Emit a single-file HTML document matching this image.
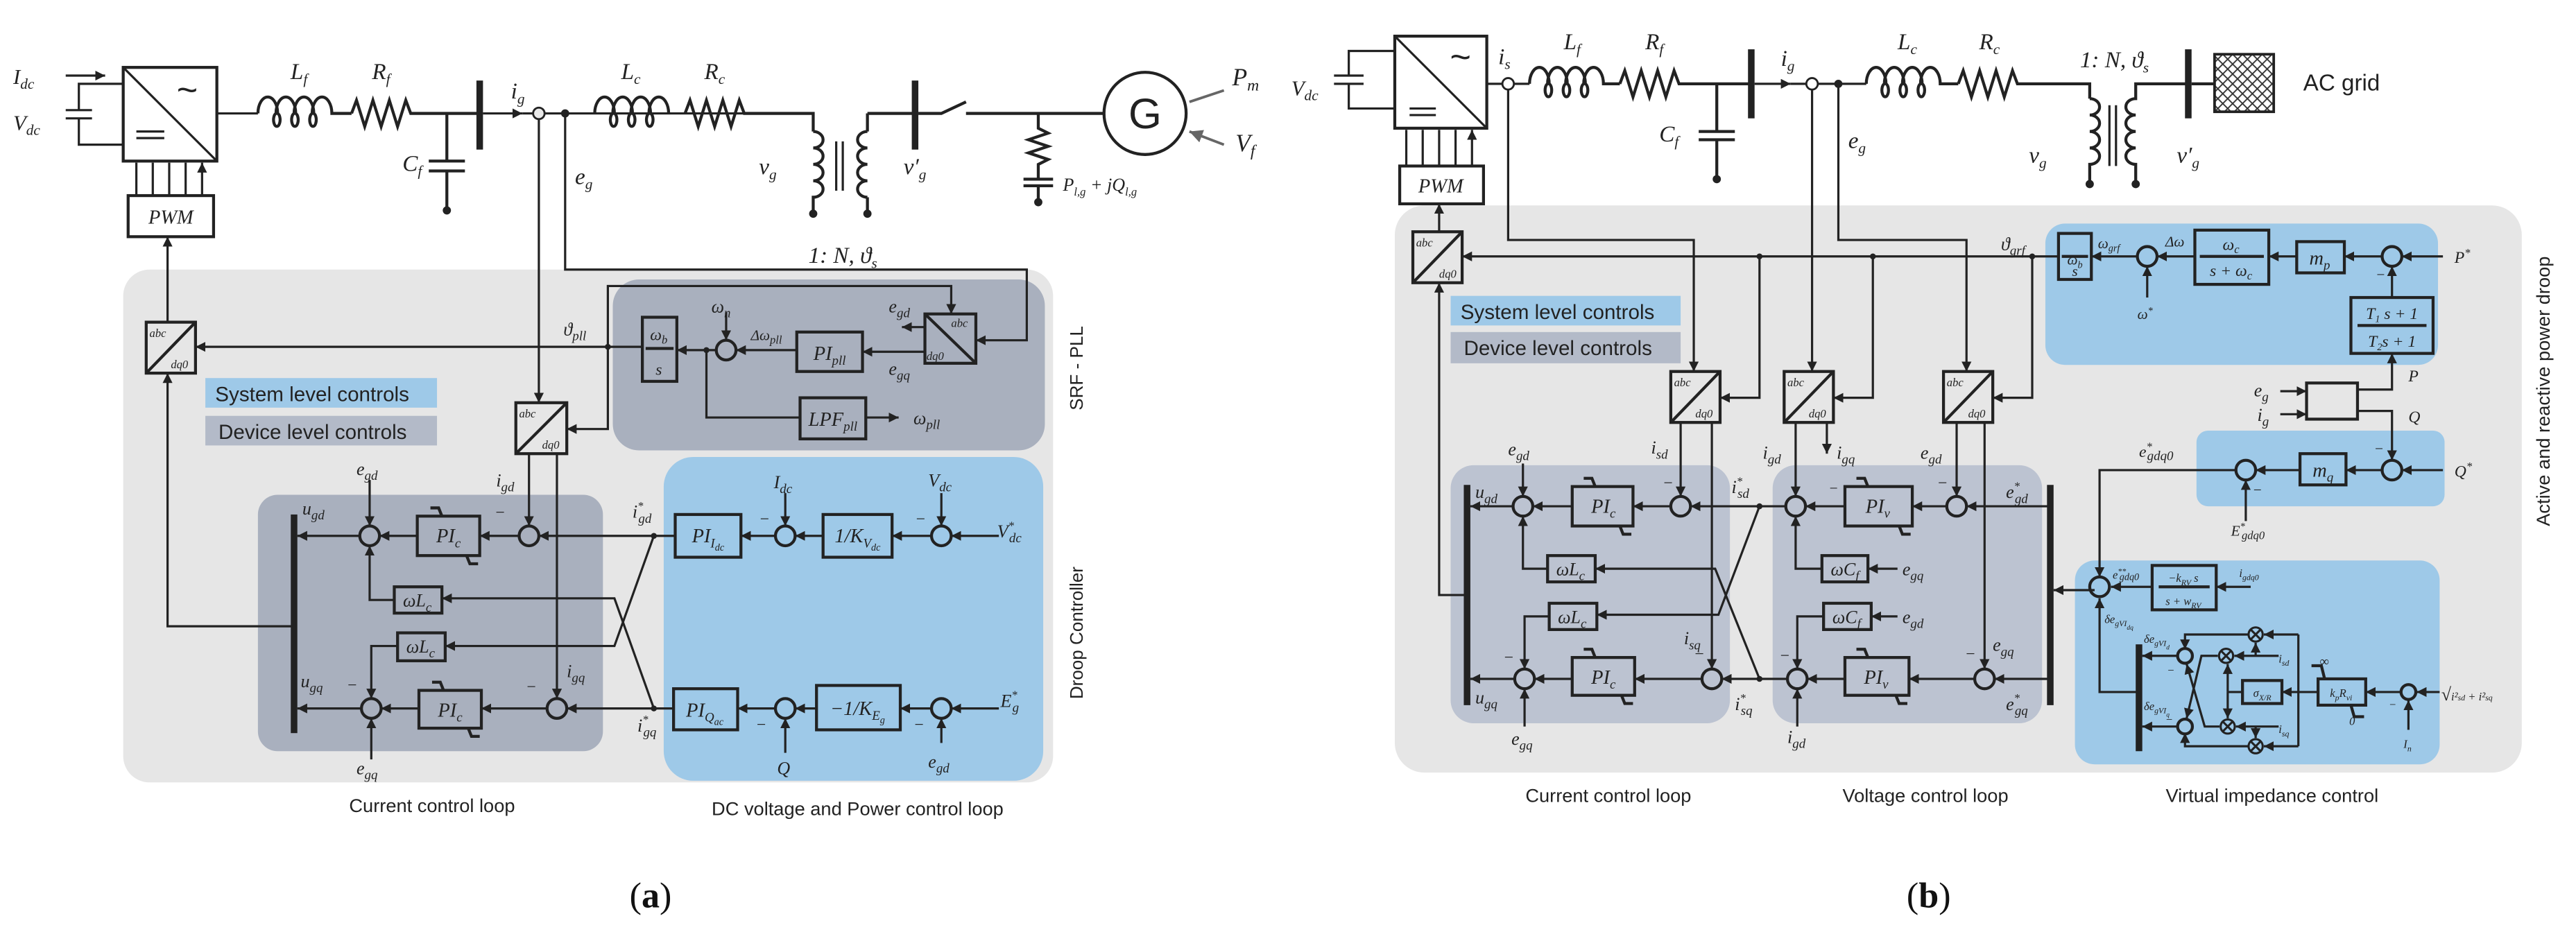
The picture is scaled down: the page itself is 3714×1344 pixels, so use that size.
<!DOCTYPE html>
<html><head><meta charset="utf-8"><style>
html,body{margin:0;padding:0;background:#fff}
svg{display:block}
.m{font-family:"Liberation Serif",serif;font-style:italic;fill:#222}
.s{font-family:"Liberation Sans",sans-serif;fill:#222}
.l{fill:none;stroke:#222;stroke-width:1.35}
.b{fill:none;stroke:#222;stroke-width:1.8}
</style></head><body>
<svg width="3714" height="1344" viewBox="0 0 1568 567" preserveAspectRatio="none" xmlns="http://www.w3.org/2000/svg">
<defs>
<marker id="a" viewBox="0 0 10 10" refX="10" refY="5" markerWidth="6" markerHeight="6" orient="auto" markerUnits="userSpaceOnUse"><path d="M0,0L10,5L0,10z" fill="#222"/></marker>
<marker id="g" viewBox="0 0 10 10" refX="10" refY="5" markerWidth="8" markerHeight="8" orient="auto" markerUnits="userSpaceOnUse"><path d="M0,0L10,5L0,10z" fill="#666"/></marker>
<pattern id="h" width="6" height="6" patternUnits="userSpaceOnUse"><path d="M0,0L6,6M6,0L0,6" stroke="#333" stroke-width="0.8"/></pattern>
</defs>
<rect width="1568" height="567" fill="#fff"/>

<!-- ================= PANEL A ================= -->
<rect x="75" y="164" width="566" height="312" rx="16" fill="#e6e6e6"/>
<rect x="373" y="170" width="263" height="104" rx="16" fill="#a9b0be"/>
<rect x="404" y="278" width="231" height="197" rx="18" fill="#9ec9e8"/>
<rect x="157" y="301" width="210" height="156" rx="12" fill="#a9b0be"/>
<rect x="125" y="230" width="141" height="18" fill="#9ec9e8"/>
<text x="131" y="244" class="s" font-size="12.5">System level controls</text>
<rect x="125" y="253" width="141" height="18" fill="#b3bac8"/>
<text x="133" y="267" class="s" font-size="12.5">Device level controls</text>
<text class="s" font-size="11" transform="translate(659,224) rotate(-90)" text-anchor="middle">SRF - PLL</text>
<text class="s" font-size="11" transform="translate(659,385) rotate(-90)" text-anchor="middle">Droop Controller</text>
<text x="263" y="494" class="s" font-size="11.5" text-anchor="middle">Current control loop</text>
<text x="522" y="496" class="s" font-size="11.5" text-anchor="middle">DC voltage and Power control loop</text>
<text x="396" y="552" font-family="Liberation Serif,serif" font-size="22" text-anchor="middle" fill="#111">(<tspan font-weight="bold">a</tspan>)</text>

<!-- circuit a -->
<rect x="75" y="41" width="57" height="57" class="b"/>
<path d="M75,41L132,98" class="l"/>
<text x="114" y="62" font-size="22" text-anchor="middle" fill="#222" font-family="Liberation Sans">~</text>
<path d="M83,80h17M83,84h17" class="l"/>
<path d="M75,51H48V67M40,67h16M40,72h16M48,72V88H75" class="l"/>
<path d="M40,46H64" class="l" marker-end="url(#a)"/>
<text x="8" y="51" class="m" font-size="13">I<tspan dy="3" font-size="9">dc</tspan></text>
<text x="8" y="79" class="m" font-size="13">V<tspan dy="3" font-size="9">dc</tspan></text>
<rect x="78" y="119" width="52" height="25" class="b"/>
<text x="104" y="136" class="m" font-size="12" text-anchor="middle">PWM</text>
<path d="M83,119V99M93,119V99M103,119V99M113,119V99M123,119V99" class="l" marker-end="url(#a)"/>
<path d="M132,69H157" class="l"/>
<path d="M157,69a6,10 0 1 1 12,0a2,4 0 1 1 -1,0a6,10 0 1 1 12,0a2,4 0 1 1 -1,0a6,10 0 1 1 12,0a2,4 0 1 1 -1,0a6,10 0 1 1 12,0H214" class="b"/>
<path d="M214,69l3,-8l5,16l5,-16l5,16l5,-16l5,16l5,-16l3,8H292" class="b"/>
<text x="182" y="48" class="m" font-size="14" text-anchor="middle">L<tspan dy="3" font-size="9">f</tspan></text>
<text x="232" y="48" class="m" font-size="14" text-anchor="middle">R<tspan dy="3" font-size="9">f</tspan></text>
<path d="M272,69V98M261,98h22M261,104h22M272,104V128" class="b"/>
<circle cx="272" cy="128" r="2.5" fill="#222"/>
<text x="245" y="104" class="m" font-size="14">C<tspan dy="3" font-size="9">f</tspan></text>
<rect x="290" y="49" width="4" height="42" fill="#222"/>
<path d="M294,69H318" class="l" marker-end="url(#a)"/>
<path d="M318,69H458" class="l"/>
<circle cx="328" cy="69" r="3.5" fill="#e9e9e9" stroke="#222" stroke-width="1.2"/>
<circle cx="344" cy="69" r="2.5" fill="#222"/>
<text x="311" y="60" class="m" font-size="14">i<tspan dy="3" font-size="9">g</tspan></text>
<text x="350" y="112" class="m" font-size="14">e<tspan dy="3" font-size="9">g</tspan></text>
<path d="M362,69a6,10 0 1 1 12,0a2,4 0 1 1 -1,0a6,10 0 1 1 12,0a2,4 0 1 1 -1,0a6,10 0 1 1 12,0a2,4 0 1 1 -1,0a6,10 0 1 1 12,0" class="b" fill="#fff"/>
<path d="M417,69l3,-8l5,16l5,-16l5,16l5,-16l5,16l5,-16l3,8H495V80" class="b"/>
<text x="384" y="48" class="m" font-size="14" text-anchor="middle">L<tspan dy="3" font-size="9">c</tspan></text>
<text x="435" y="48" class="m" font-size="14" text-anchor="middle">R<tspan dy="3" font-size="9">c</tspan></text>
<path d="M495,80a6,5 0 1 1 0,10a6,5 0 1 1 0,10a6,5 0 1 1 0,10a6,5 0 1 1 0,10V130" class="b"/>
<path d="M528,69V80M528,120V130" class="b"/>
<path d="M528,80a6,5 0 1 0 0,10a6,5 0 1 0 0,10a6,5 0 1 0 0,10a6,5 0 1 0 0,10" class="b"/>
<path d="M509,86V116M513,86V116" class="l"/>
<circle cx="495" cy="130" r="2.5" fill="#222"/><circle cx="528" cy="130" r="2.5" fill="#222"/>
<path d="M528,69H557" class="b"/>
<text x="462" y="106" class="m" font-size="14">v<tspan dy="3" font-size="9">g</tspan></text>
<text x="550" y="106" class="m" font-size="14">v′<tspan dy="3" font-size="9">g</tspan></text>
<text x="513" y="160" class="m" font-size="14" text-anchor="middle">1: N, ϑ<tspan dy="3" font-size="9">s</tspan></text>
<rect x="555" y="49" width="4" height="42" fill="#222"/>
<path d="M559,69H573L588,62M588,69H672" class="b"/>
<circle cx="697" cy="69" r="25" fill="none" stroke="#222" stroke-width="1.8"/>
<text x="697" y="78" font-family="Liberation Sans" font-size="26" text-anchor="middle" fill="#222">G</text>
<path d="M745,55L724,62M745,88L724,80" stroke="#666" stroke-width="1.6" marker-end="url(#g)"/>
<text x="750" y="52" class="m" font-size="15">P<tspan dy="3" font-size="10">m</tspan></text>
<text x="752" y="92" class="m" font-size="15">V<tspan dy="3" font-size="10">f</tspan></text>
<path d="M632,69V78l6,3l-12,4l12,4l-12,4l12,4l-6,3V109M623,109h18M623,113h18M632,113V123" class="b"/>
<circle cx="632" cy="123" r="2.5" fill="#222"/>
<text x="647" y="116" class="m" font-size="11">P<tspan dy="3" font-size="7">l,g</tspan><tspan dy="-3"> + jQ</tspan><tspan dy="3" font-size="7">l,g</tspan></text>

<!-- control a -->
<g class="l">
<path d="M328,72V245" marker-end="url(#a)"/>
<path d="M344,69V164H625V207H594" marker-end="url(#a)"/>
<path d="M370,211V174H579V191" marker-end="url(#a)"/>
<path d="M370,211V261H345" marker-end="url(#a)"/>
<path d="M391,211H119" marker-end="url(#a)"/>
<path d="M436,213H412" marker-end="url(#a)"/>
<path d="M442,190V207" marker-end="url(#a)"/>
<path d="M485,213H448" marker-end="url(#a)"/>
<path d="M430,213V254H487"/>
<path d="M527,254H547" marker-end="url(#a)"/>
<path d="M563,199H549" marker-end="url(#a)"/>
<path d="M563,214H525" marker-end="url(#a)"/>
<path d="M322,276V320" marker-end="url(#a)"/>
<path d="M339,276V425" marker-end="url(#a)"/>
<path d="M411,326H328" marker-end="url(#a)"/>
<path d="M316,326H292" marker-end="url(#a)"/>
<path d="M254,326H231" marker-end="url(#a)"/>
<path d="M219,326H181" marker-end="url(#a)"/>
<path d="M225,292V320" marker-end="url(#a)"/>
<path d="M240,365H225V332" marker-end="url(#a)"/>
<path d="M242,393H226V425" marker-end="url(#a)"/>
<path d="M398,431L374,364H269" marker-end="url(#a)"/>
<path d="M398,326L374,393H271" marker-end="url(#a)"/>
<path d="M410,431H345" marker-end="url(#a)"/>
<path d="M333,431H293" marker-end="url(#a)"/>
<path d="M255,431H232" marker-end="url(#a)"/>
<path d="M220,431H181" marker-end="url(#a)"/>
<path d="M226,462V437" marker-end="url(#a)"/>
<path d="M179,381H102V227" marker-end="url(#a)"/>
<path d="M102,196V144" marker-end="url(#a)"/>
<path d="M608,326H579" marker-end="url(#a)"/>
<path d="M567,326H543" marker-end="url(#a)"/>
<path d="M501,326H484" marker-end="url(#a)"/>
<path d="M472,326H451" marker-end="url(#a)"/>
<path d="M478,300V320" marker-end="url(#a)"/>
<path d="M573,300V320" marker-end="url(#a)"/>
<path d="M608,431H579" marker-end="url(#a)"/>
<path d="M567,431H548" marker-end="url(#a)"/>
<path d="M497,431H484" marker-end="url(#a)"/>
<path d="M472,431H449" marker-end="url(#a)"/>
<path d="M478,458V437" marker-end="url(#a)"/>
<path d="M573,452V437" marker-end="url(#a)"/>
</g>
<circle cx="370" cy="211" r="1.8" fill="#222"/><circle cx="430" cy="213" r="1.8" fill="#222"/>
<circle cx="398" cy="326" r="1.8" fill="#222"/><circle cx="398" cy="431" r="1.8" fill="#222"/>
<g class="b">
<rect x="89" y="196" width="30" height="31"/><path d="M89,227L119,196"/>
<rect x="314" y="245" width="31" height="31"/><path d="M314,276L345,245"/>
<rect x="563" y="191" width="31" height="30"/><path d="M563,191L594,221"/>
<rect x="391" y="193" width="21" height="39"/><path d="M393,212h17"/>
<rect x="485" y="202" width="40" height="24"/>
<rect x="487" y="242" width="40" height="25"/>
<rect x="254" y="314" width="38" height="24"/><path d="M262,309h5l2,5M284,338l2,5h5"/>
<rect x="255" y="420" width="38" height="23"/><path d="M263,415h5l2,5M285,443l2,5h5"/>
<rect x="240" y="357" width="29" height="16"/>
<rect x="242" y="385" width="29" height="17"/>
<rect x="411" y="313" width="40" height="26"/>
<rect x="501" y="313" width="42" height="26"/>
<rect x="410" y="419" width="39" height="25"/>
<rect x="497" y="417" width="51" height="27"/>
<circle cx="442" cy="213" r="6"/>
<circle cx="225" cy="326" r="6"/><circle cx="322" cy="326" r="6"/>
<circle cx="226" cy="431" r="6"/><circle cx="339" cy="431" r="6"/>
<circle cx="478" cy="326" r="6"/><circle cx="573" cy="326" r="6"/>
<circle cx="478" cy="431" r="6"/><circle cx="573" cy="431" r="6"/>
</g>
<rect x="177" y="313" width="4" height="133" fill="#222"/>
<g class="m">
<text x="91" y="205" font-size="7">abc</text><text x="104" y="224" font-size="7">dq0</text>
<text x="316" y="254" font-size="7">abc</text><text x="330" y="273" font-size="7">dq0</text>
<text x="579" y="199" font-size="7">abc</text><text x="564" y="219" font-size="7">dq0</text>
<text x="401" y="207" font-size="10" text-anchor="middle">ω<tspan dy="2" font-size="7">b</tspan></text>
<text x="401" y="228" font-size="10" text-anchor="middle">s</text>
<text x="505" y="219" font-size="12" text-anchor="middle">PI<tspan dy="3" font-size="8">pll</tspan></text>
<text x="507" y="259" font-size="12" text-anchor="middle">LPF<tspan dy="3" font-size="8">pll</tspan></text>
<text x="433" y="190" font-size="11">ω<tspan dy="3" font-size="8">n</tspan></text>
<text x="457" y="207" font-size="9">Δω<tspan dy="2" font-size="7">pll</tspan></text>
<text x="343" y="204" font-size="11">ϑ<tspan dy="3" font-size="8">pll</tspan></text>
<text x="541" y="190" font-size="11">e<tspan dy="3" font-size="8">gd</tspan></text>
<text x="541" y="228" font-size="11">e<tspan dy="3" font-size="8">gq</tspan></text>
<text x="556" y="258" font-size="11">ω<tspan dy="3" font-size="8">pll</tspan></text>
<text x="273" y="330" font-size="12" text-anchor="middle">PI<tspan dy="3" font-size="8">c</tspan></text>
<text x="274" y="436" font-size="12" text-anchor="middle">PI<tspan dy="3" font-size="8">c</tspan></text>
<text x="254" y="369" font-size="11" text-anchor="middle">ωL<tspan dy="3" font-size="8">c</tspan></text>
<text x="256" y="397" font-size="11" text-anchor="middle">ωL<tspan dy="3" font-size="8">c</tspan></text>
<text x="217" y="289" font-size="11">e<tspan dy="3" font-size="8">gd</tspan></text>
<text x="217" y="471" font-size="11">e<tspan dy="3" font-size="8">gq</tspan></text>
<text x="184" y="313" font-size="11">u<tspan dy="3" font-size="8">gd</tspan></text>
<text x="183" y="418" font-size="11">u<tspan dy="3" font-size="8">gq</tspan></text>
<text x="302" y="296" font-size="11">i<tspan dy="3" font-size="8">gd</tspan></text>
<text x="345" y="412" font-size="11">i<tspan dy="3" font-size="8">gq</tspan></text>
<text x="385" y="315" font-size="11">i<tspan dy="-5" font-size="7">*</tspan><tspan dx="-3" dy="8" font-size="8">gd</tspan></text>
<text x="388" y="445" font-size="11">i<tspan dy="-5" font-size="7">*</tspan><tspan dx="-3" dy="8" font-size="8">gq</tspan></text>
<text x="431" y="330" font-size="12" text-anchor="middle">PI<tspan dy="3" font-size="8">I</tspan><tspan dy="2" font-size="6">dc</tspan></text>
<text x="522" y="330" font-size="12" text-anchor="middle">1/K<tspan dy="3" font-size="8">V</tspan><tspan dy="2" font-size="6">dc</tspan></text>
<text x="429" y="436" font-size="12" text-anchor="middle">PI<tspan dy="3" font-size="8">Q</tspan><tspan dy="2" font-size="6">ac</tspan></text>
<text x="522" y="435" font-size="12" text-anchor="middle">−1/K<tspan dy="3" font-size="8">E</tspan><tspan dy="2" font-size="6">g</tspan></text>
<text x="471" y="297" font-size="11">I<tspan dy="3" font-size="8">dc</tspan></text>
<text x="565" y="296" font-size="11">V<tspan dy="3" font-size="8">dc</tspan></text>
<text x="607" y="327" font-size="11">V<tspan dy="-5" font-size="7">*</tspan><tspan dx="-3" dy="8" font-size="8">dc</tspan></text>
<text x="609" y="430" font-size="11">E<tspan dy="-5" font-size="7">*</tspan><tspan dx="-3" dy="8" font-size="8">g</tspan></text>
<text x="473" y="471" font-size="11">Q</text>
<text x="565" y="467" font-size="11">e<tspan dy="3" font-size="8">gd</tspan></text>
<text x="301" y="315" font-size="10">−</text><text x="211" y="420" font-size="10">−</text><text x="320" y="421" font-size="10">−</text>
<text x="462" y="319" font-size="10">−</text><text x="557" y="319" font-size="10">−</text>
<text x="460" y="444" font-size="10">−</text><text x="556" y="444" font-size="10">−</text>
</g>

<!-- ================= PANEL B ================= -->
<rect x="849" y="125" width="686" height="345" rx="18" fill="#e6e6e6"/>
<rect x="1245" y="136" width="239" height="86" rx="12" fill="#9ec9e8"/>
<rect x="1337" y="262" width="151" height="46" rx="7" fill="#9ec9e8"/>
<rect x="1263" y="341" width="222" height="124" rx="12" fill="#9ec9e8"/>
<rect x="883" y="283" width="170" height="157" rx="14" fill="#bcc3d1"/>
<rect x="1079" y="283" width="164" height="157" rx="14" fill="#bcc3d1"/>
<rect x="883" y="180" width="140" height="18" fill="#9ec9e8"/>
<text x="889" y="194" class="s" font-size="12.5">System level controls</text>
<rect x="883" y="202" width="140" height="19" fill="#b3bac8"/>
<text x="891" y="216" class="s" font-size="12.5">Device level controls</text>
<text class="s" font-size="11.5" transform="translate(1552,238) rotate(-90)" text-anchor="middle">Active and reactive power droop</text>
<text x="979" y="488" class="s" font-size="11.5" text-anchor="middle">Current control loop</text>
<text x="1172" y="488" class="s" font-size="11.5" text-anchor="middle">Voltage control loop</text>
<text x="1383" y="488" class="s" font-size="11.5" text-anchor="middle">Virtual impedance control</text>
<text x="1174" y="552" font-family="Liberation Serif,serif" font-size="22" text-anchor="middle" fill="#111">(<tspan font-weight="bold">b</tspan>)</text>

<!-- circuit b -->
<rect x="849" y="22" width="56" height="56" class="b"/>
<path d="M849,22L905,78" class="l"/>
<text x="889" y="42" font-size="22" text-anchor="middle" fill="#222" font-family="Liberation Sans">~</text>
<path d="M858,66h16M858,70h16" class="l"/>
<path d="M849,31H821V46M812,46h18M812,51h18M821,51V66H849" class="l"/>
<text x="786" y="58" class="m" font-size="13">V<tspan dy="3" font-size="9">dc</tspan></text>
<rect x="852" y="101" width="51" height="23" class="b"/>
<text x="877" y="117" class="m" font-size="12" text-anchor="middle">PWM</text>
<path d="M856,101V79M866,101V79M876,101V79M886,101V79M896,101V79" class="l" marker-end="url(#a)"/>
<path d="M905,51H931" class="l"/>
<path d="M931,51a6,10 0 1 1 12,0a2,4 0 1 1 -1,0a6,10 0 1 1 12,0a2,4 0 1 1 -1,0a6,10 0 1 1 12,0a2,4 0 1 1 -1,0a6,10 0 1 1 12,0H986" class="b"/>
<path d="M986,51l3,-8l5,16l5,-16l5,16l5,-16l5,16l5,-16l3,8H1066" class="b"/>
<text x="957" y="30" class="m" font-size="14" text-anchor="middle">L<tspan dy="3" font-size="9">f</tspan></text>
<text x="1007" y="30" class="m" font-size="14" text-anchor="middle">R<tspan dy="3" font-size="9">f</tspan></text>
<circle cx="918" cy="51" r="3.5" fill="#fff" stroke="#222" stroke-width="1.2"/>
<text x="912" y="39" class="m" font-size="14">i<tspan dy="3" font-size="9">s</tspan></text>
<path d="M1045,51V80M1034,80h22M1034,85h22M1045,85V109" class="b"/>
<circle cx="1045" cy="109" r="2.5" fill="#222"/>
<text x="1010" y="86" class="m" font-size="14">C<tspan dy="3" font-size="9">f</tspan></text>
<rect x="1064" y="30" width="4" height="42" fill="#222"/>
<path d="M1068,51H1090" class="l" marker-end="url(#a)"/>
<path d="M1090,51H1136" class="l"/>
<circle cx="1103" cy="51" r="3.5" fill="#fff" stroke="#222" stroke-width="1.2"/>
<circle cx="1119" cy="51" r="2.5" fill="#222"/>
<text x="1084" y="40" class="m" font-size="14">i<tspan dy="3" font-size="9">g</tspan></text>
<text x="1125" y="90" class="m" font-size="14">e<tspan dy="3" font-size="9">g</tspan></text>
<path d="M1136,51a6,10 0 1 1 12,0a2,4 0 1 1 -1,0a6,10 0 1 1 12,0a2,4 0 1 1 -1,0a6,10 0 1 1 12,0a2,4 0 1 1 -1,0a6,10 0 1 1 12,0H1192" class="b"/>
<path d="M1192,51l3,-8l5,16l5,-16l5,16l5,-16l5,16l5,-16l3,8H1272V60" class="b"/>
<text x="1161" y="30" class="m" font-size="14" text-anchor="middle">L<tspan dy="3" font-size="9">c</tspan></text>
<text x="1211" y="30" class="m" font-size="14" text-anchor="middle">R<tspan dy="3" font-size="9">c</tspan></text>
<path d="M1272,60a6,5 0 1 1 0,10a6,5 0 1 1 0,10a6,5 0 1 1 0,10a6,5 0 1 1 0,10V112" class="b"/>
<path d="M1300,112V100a6,5 0 1 1 0,-10a6,5 0 1 1 0,-10a6,5 0 1 1 0,-10a6,5 0 1 1 0,-10V51H1332" class="b"/>
<path d="M1284,64V101M1288,64V101" class="l"/>
<circle cx="1272" cy="112" r="2.5" fill="#222"/><circle cx="1300" cy="112" r="2.5" fill="#222"/>
<text x="1235" y="99" class="m" font-size="14">v<tspan dy="3" font-size="9">g</tspan></text>
<text x="1325" y="99" class="m" font-size="14">v′<tspan dy="3" font-size="9">g</tspan></text>
<text x="1287" y="41" class="m" font-size="14" text-anchor="middle">1: N, ϑ<tspan dy="3" font-size="9">s</tspan></text>
<rect x="1330" y="30" width="4" height="42" fill="#222"/>
<path d="M1334,51H1348" class="b"/>
<rect x="1348" y="33" width="36" height="35" fill="url(#h)" stroke="#222" stroke-width="1.6"/>
<text x="1402" y="55" class="s" font-size="14">AC grid</text>

<!-- control b lines -->
<g class="l">
<path d="M918,55V146H1031V226" marker-end="url(#a)"/>
<path d="M1103,55V226" marker-end="url(#a)"/>
<path d="M1119,51V146H1197V226" marker-end="url(#a)"/>
<path d="M1253,156H890" marker-end="url(#a)"/>
<path d="M1071,156V242H1047" marker-end="url(#a)"/>
<path d="M1140,156V242H1116" marker-end="url(#a)"/>
<path d="M1237,156V242H1213" marker-end="url(#a)"/>
<path d="M876,141V124" marker-end="url(#a)"/>
<path d="M893,362H876V172" marker-end="url(#a)"/>
<path d="M1023,257V302" marker-end="url(#a)"/>
<path d="M1042,257V407" marker-end="url(#a)"/>
<path d="M1093,257V302" marker-end="url(#a)"/>
<path d="M1112,257V276" marker-end="url(#a)"/>
<path d="M1191,257V302" marker-end="url(#a)"/>
<path d="M1208,257V407" marker-end="url(#a)"/>
<path d="M1248,308H1197" marker-end="url(#a)"/>
<path d="M1185,308H1164" marker-end="url(#a)"/>
<path d="M1123,308H1099" marker-end="url(#a)"/>
<path d="M1087,308H1029" marker-end="url(#a)"/>
<path d="M1017,308H994" marker-end="url(#a)"/>
<path d="M957,308H933" marker-end="url(#a)"/>
<path d="M921,308H895" marker-end="url(#a)"/>
<path d="M1248,413H1214" marker-end="url(#a)"/>
<path d="M1202,413H1162" marker-end="url(#a)"/>
<path d="M1123,413H1100" marker-end="url(#a)"/>
<path d="M1088,413H1048" marker-end="url(#a)"/>
<path d="M1036,413H995" marker-end="url(#a)"/>
<path d="M957,413H934" marker-end="url(#a)"/>
<path d="M922,413H895" marker-end="url(#a)"/>
<path d="M1155,346H1137" marker-end="url(#a)"/>
<path d="M1109,346H1093V314" marker-end="url(#a)"/>
<path d="M1155,375H1139" marker-end="url(#a)"/>
<path d="M1110,375H1094V407" marker-end="url(#a)"/>
<path d="M1094,442V419" marker-end="url(#a)"/>
<path d="M927,282V302" marker-end="url(#a)"/>
<path d="M928,442V419" marker-end="url(#a)"/>
<path d="M942,346H927V314" marker-end="url(#a)"/>
<path d="M943,375H928V407" marker-end="url(#a)"/>
<path d="M1071,413L1044,346H971" marker-end="url(#a)"/>
<path d="M1071,308L1046,374H972" marker-end="url(#a)"/>
<path d="M1275,359H1250" marker-end="url(#a)"/>
<path d="M1487,156H1462" marker-end="url(#a)"/>
<path d="M1450,156H1427" marker-end="url(#a)"/>
<path d="M1398,156H1381" marker-end="url(#a)"/>
<path d="M1336,156H1313" marker-end="url(#a)"/>
<path d="M1301,156H1273" marker-end="url(#a)"/>
<path d="M1307,181V162" marker-end="url(#a)"/>
<path d="M1456,181V162" marker-end="url(#a)"/>
<path d="M1435,237H1456V215" marker-end="url(#a)"/>
<path d="M1435,250H1456V280" marker-end="url(#a)"/>
<path d="M1388,238H1404" marker-end="url(#a)"/>
<path d="M1388,252H1404" marker-end="url(#a)"/>
<path d="M1487,286H1462" marker-end="url(#a)"/>
<path d="M1450,286H1428" marker-end="url(#a)"/>
<path d="M1400,286H1373" marker-end="url(#a)"/>
<path d="M1367,317V292" marker-end="url(#a)"/>
<path d="M1361,286H1278V351" marker-end="url(#a)"/>
<path d="M1310,357H1285" marker-end="url(#a)"/>
<path d="M1370,357H1349" marker-end="url(#a)"/>
<path d="M1302,421H1278V364" marker-end="url(#a)"/>
<path d="M1326,399H1304" marker-end="url(#a)"/>
<path d="M1326,442H1304" marker-end="url(#a)"/>
<path d="M1369,386H1330V395" marker-end="url(#a)"/>
<path d="M1369,454H1330V446" marker-end="url(#a)"/>
<path d="M1387,399H1360" marker-end="url(#a)"/>
<path d="M1373,399V391" marker-end="url(#a)"/>
<path d="M1387,442H1361" marker-end="url(#a)"/>
<path d="M1373,442V449" marker-end="url(#a)"/>
<path d="M1399,386V454"/>
<path d="M1399,386H1378" marker-end="url(#a)"/>
<path d="M1399,454H1378" marker-end="url(#a)"/>
<path d="M1411,421H1389" marker-end="url(#a)"/>
<path d="M1365,421H1356"/>
<path d="M1356,421V404" marker-end="url(#a)"/>
<path d="M1356,421V437" marker-end="url(#a)"/>
<path d="M1350,399H1340L1331,437" marker-end="url(#a)"/>
<path d="M1351,442H1342L1331,404" marker-end="url(#a)"/>
<path d="M1461,421H1440" marker-end="url(#a)"/>
<path d="M1485,421H1471" marker-end="url(#a)"/>
<path d="M1466,444V426" marker-end="url(#a)"/>
</g>
<g fill="#222"><circle cx="1071" cy="156" r="1.8"/><circle cx="1140" cy="156" r="1.8"/><circle cx="1237" cy="156" r="1.8"/><circle cx="1071" cy="308" r="1.8"/><circle cx="1071" cy="413" r="1.8"/></g>
<g class="b">
<rect x="860" y="141" width="30" height="31"/><path d="M860,172L890,141"/>
<rect x="1017" y="226" width="30" height="31"/><path d="M1017,257L1047,226"/>
<rect x="1086" y="226" width="30" height="31"/><path d="M1086,257L1116,226"/>
<rect x="1183" y="226" width="30" height="31"/><path d="M1183,257L1213,226"/>
<rect x="957" y="296" width="37" height="24"/><path d="M964,291h5l2,5M986,320l2,5h5"/>
<rect x="957" y="400" width="38" height="23"/><path d="M964,395h5l2,5M987,423l2,5h5"/>
<rect x="1123" y="296" width="41" height="24"/><path d="M1130,291h5l2,5M1156,320l2,5h5"/>
<rect x="1123" y="400" width="39" height="23"/><path d="M1130,395h5l2,5M1154,423l2,5h5"/>
<rect x="942" y="338" width="29" height="16"/><rect x="943" y="367" width="29" height="16"/>
<rect x="1109" y="338" width="28" height="16"/><rect x="1110" y="367" width="29" height="16"/>
<circle cx="927" cy="308" r="6"/><circle cx="1023" cy="308" r="6"/><circle cx="1093" cy="308" r="6"/><circle cx="1191" cy="308" r="6"/>
<circle cx="928" cy="413" r="6"/><circle cx="1042" cy="413" r="6"/><circle cx="1094" cy="413" r="6"/><circle cx="1208" cy="413" r="6"/>
<rect x="1253" y="142" width="20" height="28"/><path d="M1255,156h16"/>
<circle cx="1307" cy="156" r="6"/>
<rect x="1336" y="140" width="45" height="33"/><path d="M1339,156h39"/>
<rect x="1398" y="147" width="29" height="19"/>
<circle cx="1456" cy="156" r="6"/>
<rect x="1431" y="181" width="50" height="34"/><path d="M1435,198h42"/>
<rect x="1404" y="233" width="31" height="22"/>
<circle cx="1367" cy="286" r="6"/><rect x="1400" y="276" width="28" height="19"/><circle cx="1456" cy="286" r="6"/>
<circle cx="1278" cy="357" r="6"/>
<rect x="1310" y="344" width="39" height="27"/><path d="M1314,357h31"/>
<circle cx="1330" cy="399" r="4.5"/><circle cx="1330" cy="442" r="4.5"/>
<rect x="1365" y="414" width="24" height="14"/>
<rect x="1411" y="413" width="29" height="16"/><path d="M1407,405h6l2,8M1431,429l2,7h6"/>
<circle cx="1466" cy="421" r="4.5"/>
</g>
<g stroke="#222" stroke-width="1.3" fill="none">
<circle cx="1373" cy="386" r="4.3"/><path d="M1370,383l6,6M1376,383l-6,6"/>
<circle cx="1355" cy="399" r="4.3"/><path d="M1352,396l6,6M1358,396l-6,6"/>
<circle cx="1356" cy="442" r="4.3"/><path d="M1353,439l6,6M1359,439l-6,6"/>
<circle cx="1373" cy="454" r="4.3"/><path d="M1370,451l6,6M1376,451l-6,6"/>
</g>
<rect x="891" y="295" width="4" height="134" fill="#222"/>
<rect x="1246" y="295" width="4" height="134" fill="#222"/>
<rect x="1300" y="392" width="4" height="65" fill="#222"/>
<g class="m">
<text x="862" y="150" font-size="7">abc</text><text x="876" y="169" font-size="7">dq0</text>
<text x="1019" y="235" font-size="7">abc</text><text x="1032" y="254" font-size="7">dq0</text>
<text x="1088" y="235" font-size="7">abc</text><text x="1101" y="254" font-size="7">dq0</text>
<text x="1185" y="235" font-size="7">abc</text><text x="1198" y="254" font-size="7">dq0</text>
<text x="1218" y="152" font-size="11">ϑ<tspan dy="3" font-size="8">grf</tspan></text>
<text x="976" y="312" font-size="12" text-anchor="middle">PI<tspan dy="3" font-size="8">c</tspan></text>
<text x="976" y="416" font-size="12" text-anchor="middle">PI<tspan dy="3" font-size="8">c</tspan></text>
<text x="1143" y="312" font-size="12" text-anchor="middle">PI<tspan dy="3" font-size="8">v</tspan></text>
<text x="1142" y="416" font-size="12" text-anchor="middle">PI<tspan dy="3" font-size="8">v</tspan></text>
<text x="956" y="350" font-size="11" text-anchor="middle">ωL<tspan dy="3" font-size="8">c</tspan></text>
<text x="957" y="379" font-size="11" text-anchor="middle">ωL<tspan dy="3" font-size="8">c</tspan></text>
<text x="1123" y="350" font-size="11" text-anchor="middle">ωC<tspan dy="3" font-size="8">f</tspan></text>
<text x="1124" y="379" font-size="11" text-anchor="middle">ωC<tspan dy="3" font-size="8">f</tspan></text>
<text x="918" y="277" font-size="11">e<tspan dy="3" font-size="8">gd</tspan></text>
<text x="920" y="453" font-size="11">e<tspan dy="3" font-size="8">gq</tspan></text>
<text x="898" y="303" font-size="11">u<tspan dy="3" font-size="8">gd</tspan></text>
<text x="898" y="428" font-size="11">u<tspan dy="3" font-size="8">gq</tspan></text>
<text x="1005" y="276" font-size="11">i<tspan dy="3" font-size="8">sd</tspan></text>
<text x="1054" y="300" font-size="11">i<tspan dy="-5" font-size="7">*</tspan><tspan dx="-3" dy="8" font-size="8">sd</tspan></text>
<text x="1025" y="392" font-size="11">i<tspan dy="3" font-size="8">sq</tspan></text>
<text x="1056" y="432" font-size="11">i<tspan dy="-5" font-size="7">*</tspan><tspan dx="-3" dy="8" font-size="8">sq</tspan></text>
<text x="1073" y="279" font-size="11">i<tspan dy="3" font-size="8">gd</tspan></text>
<text x="1118" y="279" font-size="11">i<tspan dy="3" font-size="8">gq</tspan></text>
<text x="1169" y="279" font-size="11">e<tspan dy="3" font-size="8">gd</tspan></text>
<text x="1221" y="303" font-size="11">e<tspan dy="-5" font-size="7">*</tspan><tspan dx="-3" dy="8" font-size="8">gd</tspan></text>
<text x="1213" y="396" font-size="11">e<tspan dy="3" font-size="8">gq</tspan></text>
<text x="1221" y="432" font-size="11">e<tspan dy="-5" font-size="7">*</tspan><tspan dx="-3" dy="8" font-size="8">gq</tspan></text>
<text x="1088" y="452" font-size="11">i<tspan dy="3" font-size="8">gd</tspan></text>
<text x="1158" y="350" font-size="11">e<tspan dy="3" font-size="8">gq</tspan></text>
<text x="1158" y="379" font-size="11">e<tspan dy="3" font-size="8">gd</tspan></text>
<text x="1263" y="161" font-size="9" text-anchor="middle">ω<tspan dy="2" font-size="6">b</tspan></text>
<text x="1263" y="168" font-size="9" text-anchor="middle">s</text>
<text x="1277" y="151" font-size="9">ω<tspan dy="2" font-size="6">grf</tspan></text>
<text x="1318" y="150" font-size="9">Δω</text>
<text x="1301" y="194" font-size="9">ω<tspan dy="-3" font-size="6">*</tspan></text>
<text x="1358" y="152" font-size="10" text-anchor="middle">ω<tspan dy="2" font-size="7">c</tspan></text>
<text x="1358" y="168" font-size="10" text-anchor="middle">s + ω<tspan dy="2" font-size="7">c</tspan></text>
<text x="1412" y="161" font-size="12" text-anchor="middle">m<tspan dy="3" font-size="8">p</tspan></text>
<text x="1494" y="160" font-size="10">P<tspan dy="-4" font-size="7">*</tspan></text>
<text x="1456" y="194" font-size="10" text-anchor="middle">T<tspan dy="2" font-size="6">1</tspan><tspan dy="-2"> s + 1</tspan></text>
<text x="1456" y="211" font-size="10" text-anchor="middle">T<tspan dy="2" font-size="6">2</tspan><tspan dy="-2">s + 1</tspan></text>
<text x="1466" y="232" font-size="10">P</text>
<text x="1466" y="257" font-size="10">Q</text>
<text x="1372" y="241" font-size="11">e<tspan dy="3" font-size="8">g</tspan></text>
<text x="1374" y="256" font-size="11">i<tspan dy="3" font-size="8">g</tspan></text>
<text x="1414" y="290" font-size="12" text-anchor="middle">m<tspan dy="3" font-size="8">q</tspan></text>
<text x="1494" y="290" font-size="10">Q<tspan dy="-4" font-size="7">*</tspan></text>
<text x="1358" y="326" font-size="9">E<tspan dy="-4" font-size="6">*</tspan><tspan dx="-2" dy="6" font-size="7">gdq0</tspan></text>
<text x="1302" y="278" font-size="10">e<tspan dy="-4" font-size="7">*</tspan><tspan dx="-3" dy="6" font-size="8">gdq0</tspan></text>
<text x="1286" y="352" font-size="7">e<tspan dy="-3" font-size="5">**</tspan><tspan dx="-4" dy="4" font-size="6">gdq0</tspan></text>
<text x="1329" y="354" font-size="7" text-anchor="middle">−k<tspan dy="2" font-size="5">RV</tspan><tspan dy="-2"> s</tspan></text>
<text x="1329" y="368" font-size="7" text-anchor="middle">s + w<tspan dy="2" font-size="5">RV</tspan></text>
<text x="1363" y="351" font-size="7">i<tspan dy="2" font-size="5">gdq0</tspan></text>
<text x="1281" y="379" font-size="7">δe<tspan dy="2" font-size="5">gVI</tspan><tspan dy="2" font-size="4">dq</tspan></text>
<text x="1305" y="391" font-size="7">δe<tspan dy="2" font-size="5">gVI</tspan><tspan dy="2" font-size="4">d</tspan></text>
<text x="1305" y="432" font-size="7">δe<tspan dy="2" font-size="5">gVI</tspan><tspan dy="2" font-size="4">q</tspan></text>
<text x="1377" y="424" font-size="7" text-anchor="middle">σ<tspan dy="2" font-size="5">X/R</tspan></text>
<text x="1425" y="424" font-size="7" text-anchor="middle">k<tspan dy="2" font-size="5">p</tspan><tspan dy="-2">R</tspan><tspan dy="2" font-size="5">vi</tspan></text>
<text x="1387" y="403" font-size="7">i<tspan dy="2" font-size="5">sd</tspan></text>
<text x="1387" y="446" font-size="7">i<tspan dy="2" font-size="5">sq</tspan></text>
<text x="1412" y="405" font-size="8" font-style="normal">∞</text>
<text x="1430" y="441" font-size="7">0</text>
<text x="1463" y="455" font-size="7">I<tspan dy="2" font-size="5">n</tspan></text>
<text x="1486" y="426" font-size="11" font-style="normal">√<tspan font-style="italic" font-size="7">i²<tspan font-size="5">sd</tspan> + i²<tspan font-size="5">sq</tspan></tspan></text>
<text x="1012" y="297" font-size="10">−</text><text x="1113" y="300" font-size="9">−</text><text x="1179" y="297" font-size="10">−</text>
<text x="915" y="403" font-size="10">−</text><text x="1031" y="401" font-size="10">−</text><text x="1083" y="402" font-size="10">−</text><text x="1196" y="401" font-size="10">−</text>
<text x="1446" y="170" font-size="9">−</text><text x="1445" y="276" font-size="9">−</text><text x="1371" y="301" font-size="9">−</text>
<text x="1319" y="410" font-size="7">−</text><text x="1318" y="440" font-size="7">−</text><text x="1454" y="431" font-size="7">−</text>
</g>
</svg>
</body></html>
